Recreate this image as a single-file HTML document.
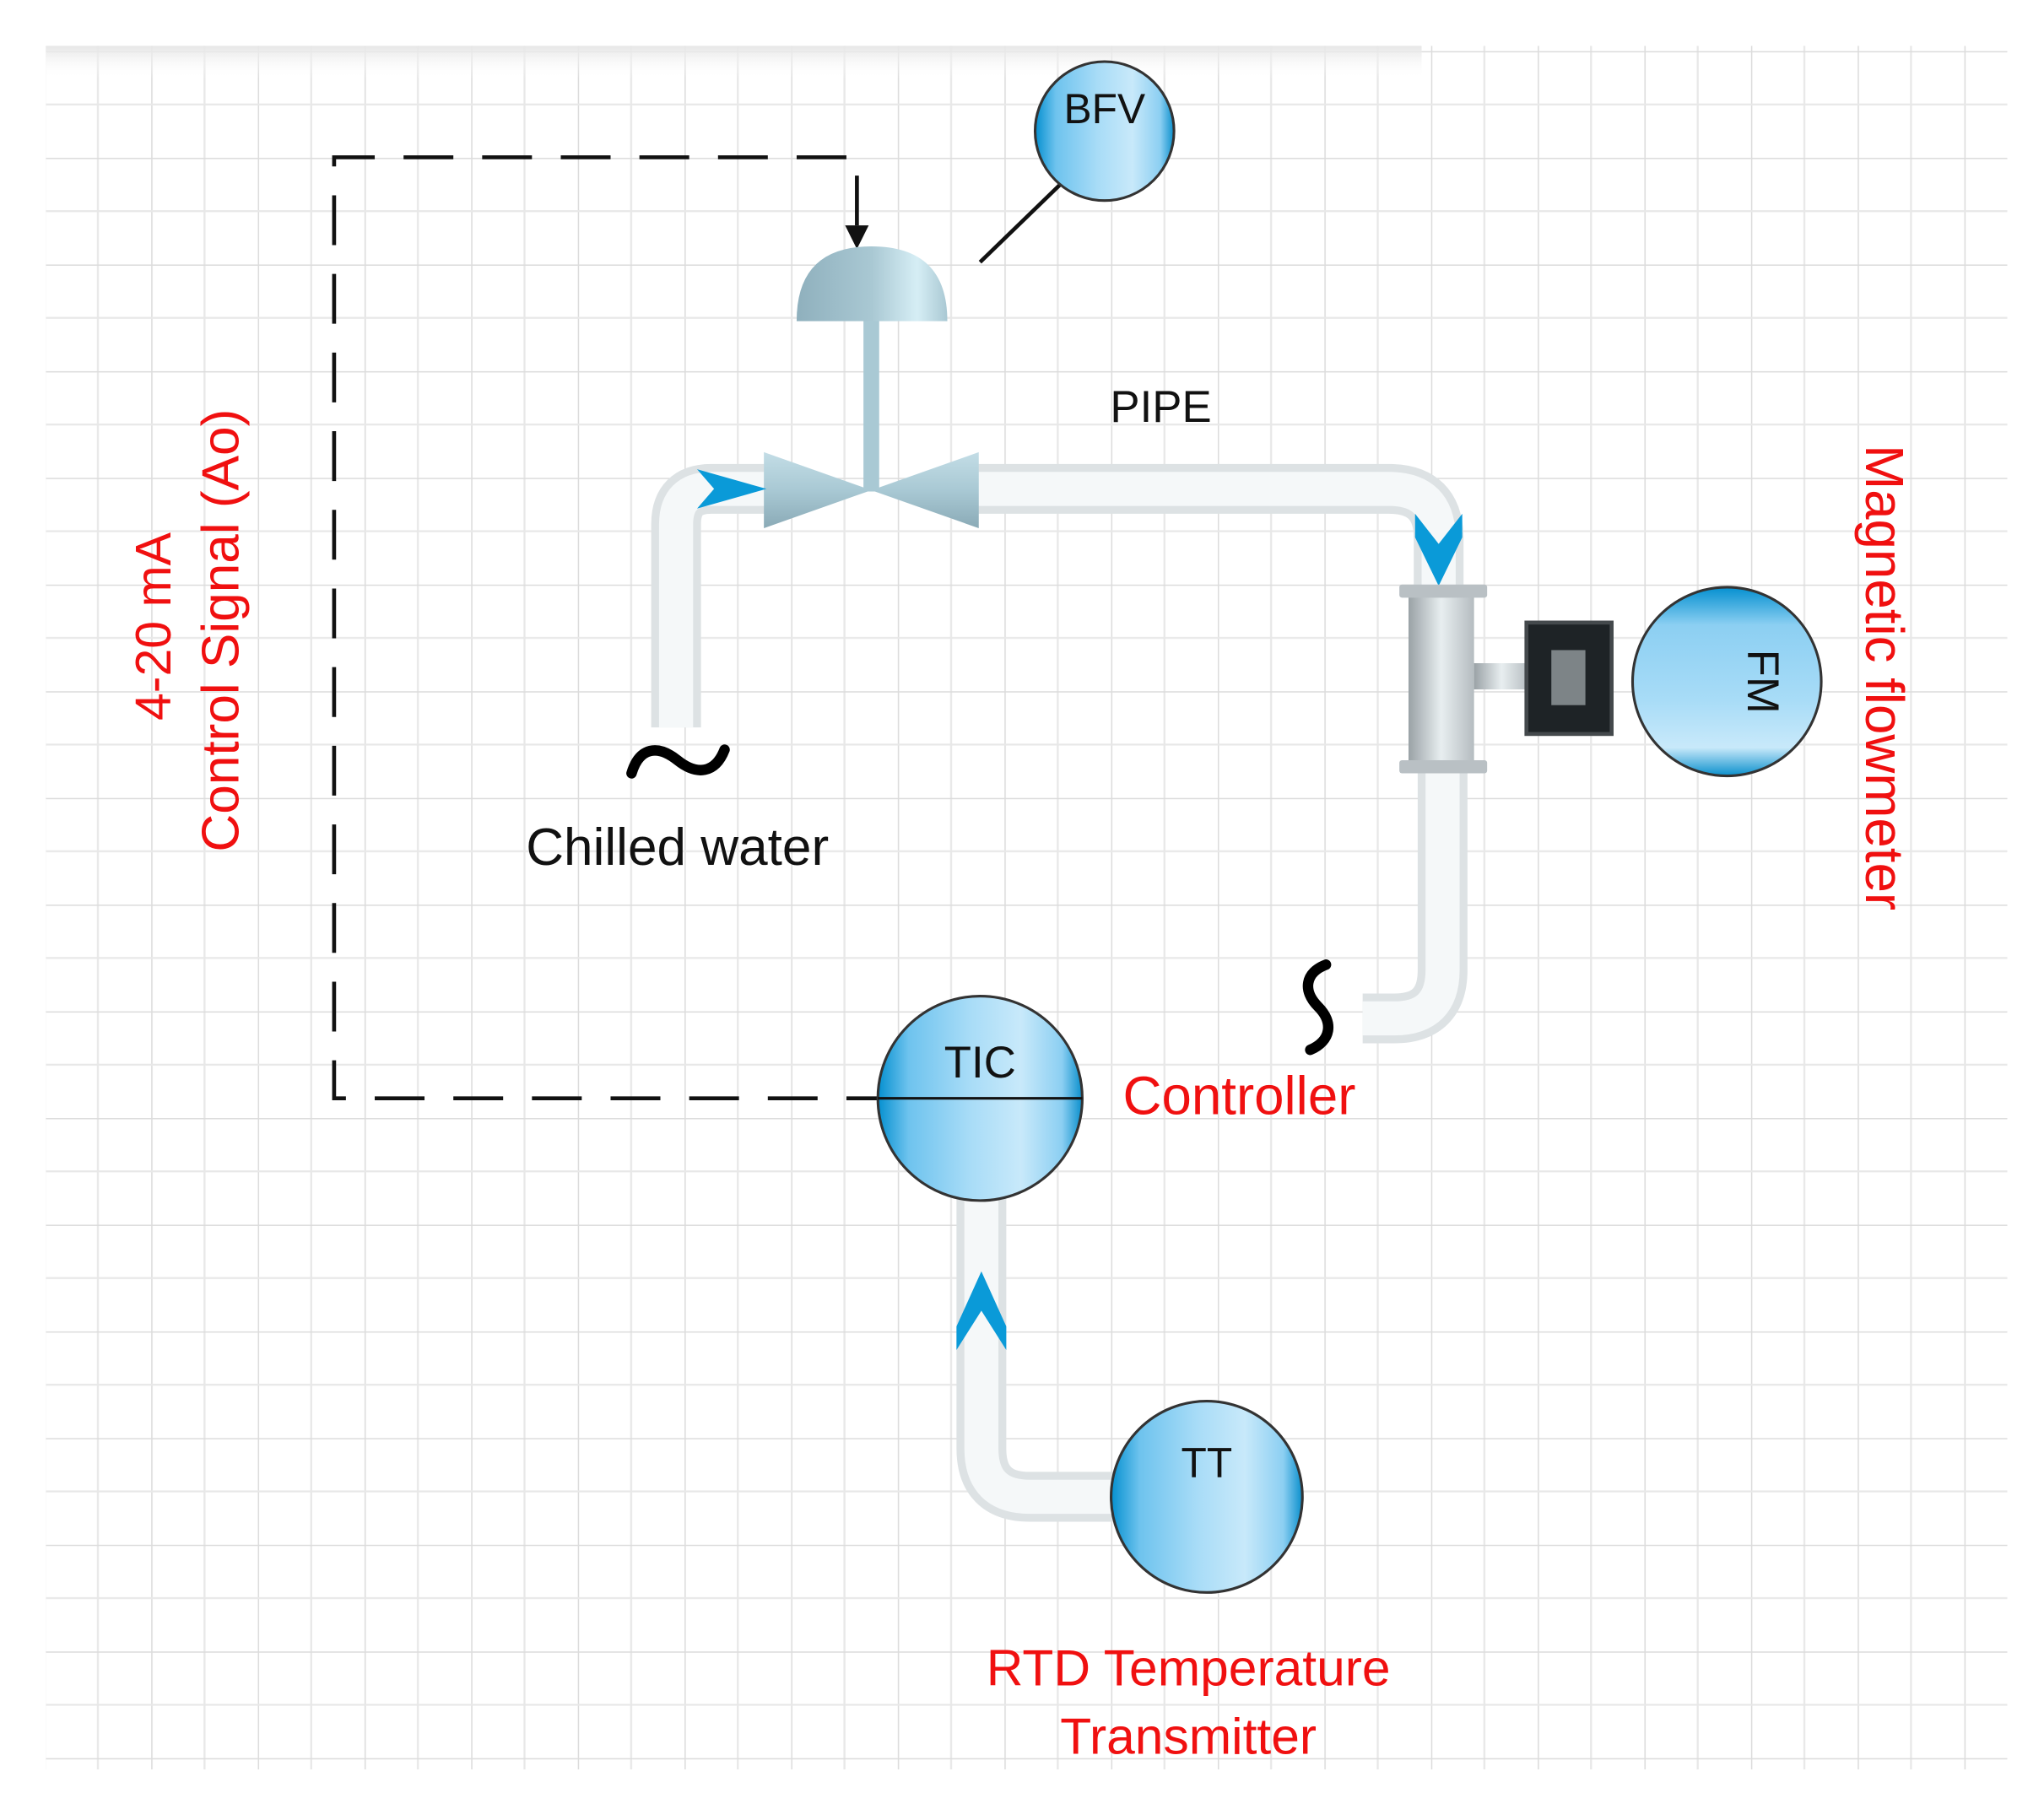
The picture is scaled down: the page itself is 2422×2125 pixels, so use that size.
<!DOCTYPE html>
<html><head><meta charset="utf-8"><style>
html,body{margin:0;padding:0;background:#fff;}
svg{display:block;}
text{font-family:"Liberation Sans",sans-serif;}
</style></head><body>
<svg width="2422" height="2125" viewBox="0 0 1560 1368" preserveAspectRatio="none" xmlns="http://www.w3.org/2000/svg">
<defs>
<pattern id="grid" patternUnits="userSpaceOnUse" x="34" y="39" width="81.4" height="81.4">
<line x1="0" y1="0" x2="0" y2="81.4" stroke="#dcdcdc" stroke-width="2"/>
<line x1="40.7" y1="0" x2="40.7" y2="81.4" stroke="#e8e8e8" stroke-width="1.5"/>
<line x1="0" y1="0" x2="81.4" y2="0" stroke="#dcdcdc" stroke-width="2"/>
<line x1="0" y1="40.7" x2="81.4" y2="40.7" stroke="#e8e8e8" stroke-width="1.5"/>
</pattern>
<linearGradient id="topshade" x1="0" y1="0" x2="0" y2="1">
<stop offset="0" stop-color="#e6e6e6"/><stop offset="1" stop-color="#ffffff" stop-opacity="0"/>
</linearGradient>
<linearGradient id="ball" x1="0" y1="0" x2="1" y2="0">
<stop offset="0" stop-color="#0590d0"/><stop offset="0.15" stop-color="#6ec3ee"/><stop offset="0.45" stop-color="#a8dcf7"/><stop offset="0.7" stop-color="#c8e9fa"/><stop offset="0.9" stop-color="#8ccff2"/><stop offset="1" stop-color="#0a8fcc"/>
</linearGradient>
<linearGradient id="ballv" x1="0" y1="0" x2="0" y2="1">
<stop offset="0" stop-color="#0590d0"/><stop offset="0.2" stop-color="#8ccff2"/><stop offset="0.6" stop-color="#a8dcf7"/><stop offset="0.85" stop-color="#c8e9fa"/><stop offset="1" stop-color="#0a8fcc"/>
</linearGradient>
<linearGradient id="dome" x1="0" y1="0" x2="1" y2="0">
<stop offset="0" stop-color="#8fb0bd"/><stop offset="0.5" stop-color="#a9c8d3"/><stop offset="0.8" stop-color="#d6eef5"/><stop offset="1" stop-color="#a9c8d3"/>
</linearGradient>
<linearGradient id="tri" x1="0" y1="0" x2="0" y2="1">
<stop offset="0" stop-color="#c3dde6"/><stop offset="0.5" stop-color="#a9c9d4"/><stop offset="1" stop-color="#8aaab6"/>
</linearGradient>
<linearGradient id="metal" x1="0" y1="0" x2="1" y2="0">
<stop offset="0" stop-color="#9aa2a6"/><stop offset="0.5" stop-color="#e8eef0"/><stop offset="1" stop-color="#b5bcc0"/>
</linearGradient>
</defs>
<rect x="0" y="0" width="1560" height="1368" fill="#fff"/>
<rect x="35" y="35" width="1497" height="1315" fill="url(#grid)"/>
<rect x="35" y="35" width="1050" height="25" fill="url(#topshade)"/>

<!-- dashed control signal -->
<path d="M654 172 L654 120 L255 120 L255 838 L670 838" fill="none" stroke="#111" stroke-width="3" stroke-dasharray="38,22"/>
<polygon points="645,172 663,172 654,190" fill="#111"/>

<!-- pipes -->
<g fill="none" stroke-linecap="butt">
<path d="M516 555 L516 400 Q516 373 543 373 L590 373" stroke="#dde2e4" stroke-width="38"/>
<path d="M516 555 L516 400 Q516 373 543 373 L590 373" stroke="#f5f8f9" stroke-width="26"/>
<path d="M740 373 L1060 373 Q1098 373 1098 411 L1098 455" stroke="#dde2e4" stroke-width="38"/>
<path d="M740 373 L1060 373 Q1098 373 1098 411 L1098 455" stroke="#f5f8f9" stroke-width="26"/>
<path d="M1101 585 L1101 740 Q1101 777 1064 777 L1040 777" stroke="#dde2e4" stroke-width="38"/>
<path d="M1101 585 L1101 740 Q1101 777 1064 777 L1040 777" stroke="#f5f8f9" stroke-width="26"/>
<path d="M749 912 L749 1105 Q749 1142 786 1142 L852 1142" stroke="#dde2e4" stroke-width="38"/>
<path d="M749 912 L749 1105 Q749 1142 786 1142 L852 1142" stroke="#f5f8f9" stroke-width="26"/>
</g>

<!-- valve -->
<rect x="659" y="240" width="12" height="135" fill="#a9c9d4"/>
<path d="M608 245 Q608 188 665 188 Q723 188 723 245 Z" fill="url(#dome)"/>
<polygon points="583,345 665,374 583,403" fill="url(#tri)"/>
<polygon points="747,345 665,374 747,403" fill="url(#tri)"/>

<!-- chevrons -->
<polygon points="532,358 585,373 532,388 545,373" fill="#0a9ad8"/>
<polygon points="1080,392 1098,415 1116,392 1116,410 1098,447 1080,410" fill="#0a9ad8"/>
<polygon points="730,1030 749,1000 768,1030 768,1012 749,970 730,1012" fill="#0a9ad8"/>

<!-- BFV -->
<line x1="748" y1="200" x2="810" y2="140" stroke="#111" stroke-width="3"/>
<circle cx="843" cy="100" r="53" fill="url(#ball)" stroke="#333" stroke-width="2"/>
<text x="843" y="94" font-size="32" text-anchor="middle" fill="#111">BFV</text>

<!-- flowmeter -->
<rect x="1075" y="452" width="50" height="134" fill="url(#metal)"/>
<rect x="1068" y="446" width="67" height="10" rx="2" fill="#b9c0c4"/>
<rect x="1068" y="580" width="67" height="10" rx="2" fill="#b9c0c4"/>
<rect x="1125" y="506" width="42" height="20" fill="url(#metal)"/>
<rect x="1165" y="475" width="65" height="85" fill="#1e2326" stroke="#44494c" stroke-width="3"/>
<rect x="1184" y="496" width="26" height="42" fill="#7d8487"/>
<circle cx="1318" cy="520" r="72" fill="url(#ballv)" stroke="#333" stroke-width="2"/>
<text transform="translate(1334 520) rotate(90)" font-size="34" text-anchor="middle" fill="#111">FM</text>

<!-- tildes -->
<path d="M482 590 C488 570 502 568 517 580 C532 592 546 590 553 572" fill="none" stroke="#000" stroke-width="8" stroke-linecap="round"/>
<path d="M1012 736 C996 742 994 756 1006 768 C1018 780 1016 794 1000 801" fill="none" stroke="#000" stroke-width="8" stroke-linecap="round"/>

<!-- TIC -->
<circle cx="748" cy="838" r="78" fill="url(#ball)" stroke="#333" stroke-width="2"/>
<line x1="670" y1="838" x2="826" y2="838" stroke="#111" stroke-width="2"/>
<text x="748" y="822" font-size="34" text-anchor="middle" fill="#111">TIC</text>

<!-- TT -->
<circle cx="921" cy="1142" r="73" fill="url(#ball)" stroke="#333" stroke-width="2"/>
<text x="921" y="1127" font-size="32" text-anchor="middle" fill="#111">TT</text>

<!-- labels -->
<text x="886" y="322" font-size="34" text-anchor="middle" fill="#111">PIPE</text>
<text x="517" y="660" font-size="40" text-anchor="middle" fill="#111">Chilled water</text>
<text x="857" y="850" font-size="41" fill="#f01010">Controller</text>
<text x="907" y="1286" font-size="39" text-anchor="middle" fill="#f01010">RTD Temperature</text>
<text x="907" y="1338" font-size="39" text-anchor="middle" fill="#f01010">Transmitter</text>
<text transform="translate(1424 517) rotate(90)" font-size="41" text-anchor="middle" fill="#f01010">Magnetic flowmeter</text>
<text transform="translate(130 478) rotate(-90)" font-size="38" text-anchor="middle" fill="#f01010">4-20 mA</text>
<text transform="translate(182 481) rotate(-90)" font-size="40" text-anchor="middle" fill="#f01010">Control Signal (Ao)</text>
</svg>
</body></html>
